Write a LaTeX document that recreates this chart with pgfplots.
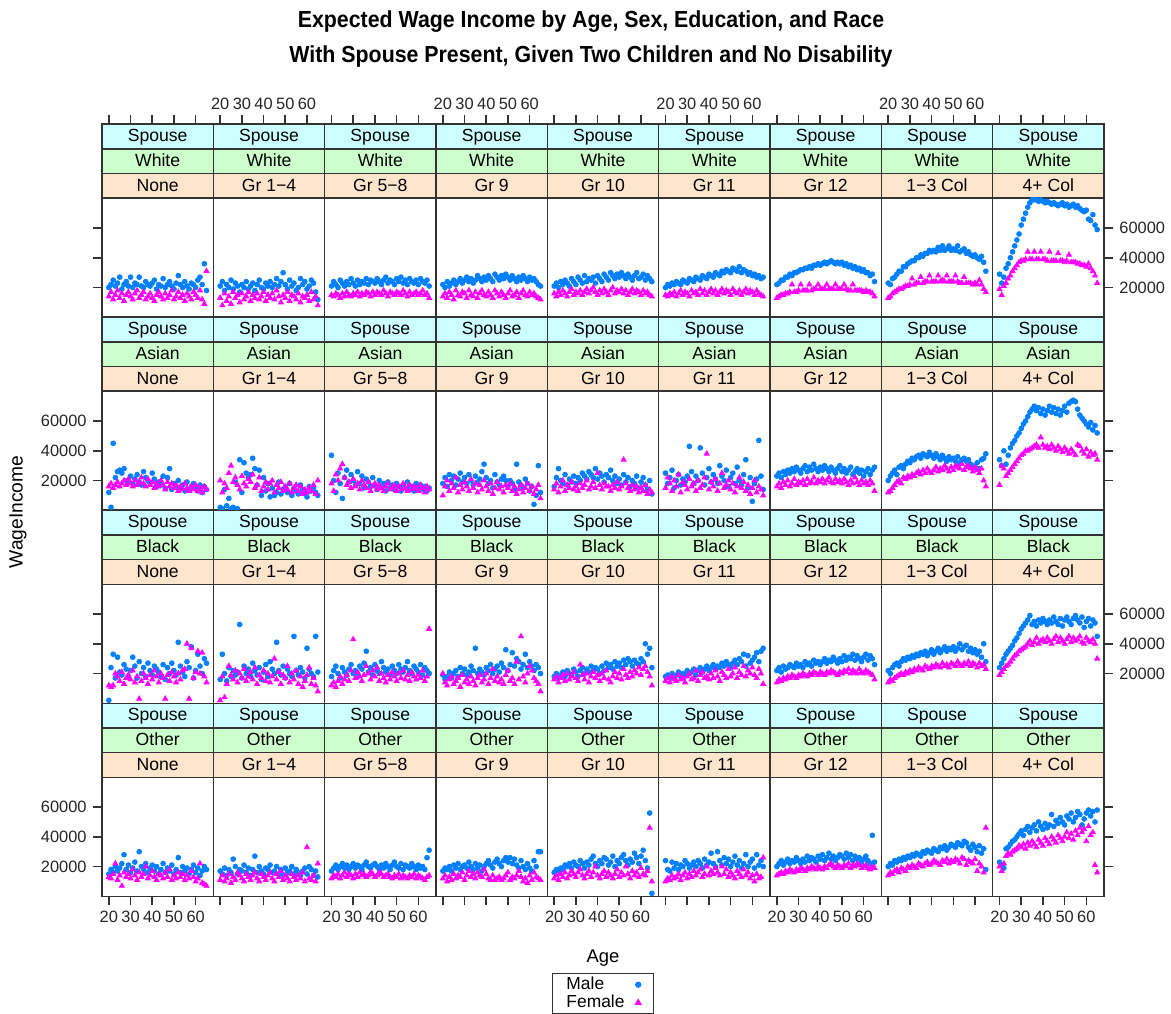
\documentclass[border=0pt]{standalone}
\usepackage{fontspec}
\setmainfont{Liberation Sans}
\newfontfamily\titlefont[FakeStretch=0.92]{Liberation Sans}
\usepackage{pgfplots}
\usepackage{pgfplotstable}
\pgfplotsset{compat=1.18}
\definecolor{cmale}{HTML}{0080FF}
\definecolor{cfem}{HTML}{FF00FF}
\definecolor{ccyan}{HTML}{CCFFFF}
\definecolor{cgreen}{HTML}{CCFFCC}
\definecolor{cpeach}{HTML}{FFE5CC}

\pgfplotstableread{
name 20 21 22 23 24 25 26 27 28 29 30 31 32 33 34 35 36 37 38 39 40 41 42 43 44 45 46 47 48 49 50 51 52 53 54 55 56 57 58 59 60 61 62 63 64 65
W1m 20 22 25 21 23 27 19 22 24 21 27 20 23 22 27 21 20 24 22 21 23 25 19 22 21 26 20 22 24 21 19 23 28 22 20 24 21 19 23 22 20 25 27 22 36 18
W1f 14 17 12 15 18 13 16 11 15 17 14 12 16 18 13 15 17 12 14 16 13 11 15 17 14 12 16 13 15 18 12 14 17 13 15 11 16 14 12 17 15 13 18 12 9 31
W2m 21 24 18 22 20 25 19 23 21 17 22 20 24 19 21 23 18 22 25 20 19 23 21 24 20 22 26 21 24 30 22 19 25 21 23 18 20 26 22 24 19 21 25 23 17 12
W2f 13 8 16 11 14 9 17 13 15 10 16 12 14 17 11 15 13 16 12 14 17 11 15 13 16 12 18 14 10 15 13 17 11 15 14 12 16 10 14 13 15 11 17 12 14 8
W3m 21 24 22 20 25 23 21 24 22 26 23 21 25 22 24 23 26 22 25 24 23 26 24 22 25 27 23 25 24 22 26 24 27 23 25 22 26 24 23 25 22 26 24 23 25 21
W3f 15 14 16 15 13 16 14 17 15 14 16 15 17 14 16 15 17 16 14 17 15 17 16 15 18 16 14 17 16 15 17 16 15 18 16 14 17 15 16 17 15 16 18 15 16 13
W4m 22 20 24 21 23 25 22 24 26 23 25 27 24 26 23 25 28 26 24 27 25 28 26 24 29 27 25 28 26 29 27 25 28 26 24 27 25 28 26 24 27 25 26 24 22 21
W4f 14 16 13 17 15 12 18 15 14 17 16 13 18 15 14 17 13 16 18 15 14 17 15 13 18 16 14 17 15 13 16 18 14 15 17 13 16 18 15 14 17 15 16 14 13 12
W5m 21 23 20 24 22 25 23 21 26 24 22 27 25 23 28 24 26 25 27 23 28 26 24 29 27 25 30 28 26 29 27 30 28 26 29 27 25 28 30 26 27 29 25 28 26 24
W5f 16 14 17 15 18 16 14 17 19 15 17 16 18 15 17 19 16 18 20 17 15 18 16 19 17 15 18 20 16 18 17 19 16 18 15 17 19 16 18 17 15 18 16 17 15 14
W6m 20 22 21 23 22 24 23 22 25 24 23 26 25 24 27 26 25 28 27 26 29 28 27 30 29 28 31 30 32 31 30 33 32 31 34 30 32 31 29 30 28 29 27 28 26 27
W6f 15 14 16 15 17 14 16 18 15 17 16 14 18 16 17 15 19 16 18 15 17 19 16 18 15 17 19 16 18 17 15 19 17 16 18 15 17 19 16 18 17 15 18 16 15 14
W7m 22 23 25 25 27 27 29 28 30 30 31 32 32 33 33 34 33 35 35 36 35 36 37 36 37 38 37 36 37 36 37 35 36 34 35 33 34 32 33 31 32 30 30 28 29 24
W7f 13 14 15 15 16 16 17 22 17 17 18 22 18 18 18 22 18 19 19 22 19 19 19 22 19 19 19 22 19 19 19 22 19 18 18 22 18 18 18 18 17 18 17 17 16 14
W8m 23 22 26 27 29 31 31 34 34 36 37 38 38 40 40 42 41 43 43 45 44 45 44 47 45 48 45 46 48 45 46 45 48 44 45 46 43 44 42 41 42 40 39 41 37 31
W8f 13 14 16 17 18 19 19 20 21 21 22 26 22 23 23 27 23 24 24 28 24 24 24 28 24 25 24 28 24 24 24 28 24 23 23 27 23 23 23 22 23 22 25 22 19 17
W9m 29 23 27 33 36 40 44 48 52 56 62 66 70 74 77 79 79 79 78 79 78 77 78 77 76 77 76 75 76 77 75 76 74 75 76 74 75 73 72 71 72 66 65 69 62 59
W9f 19 15 21 23 26 28 31 33 35 37 38 38 39 44 39 39 44 39 39 44 39 39 38 44 38 38 38 43 38 38 37 38 42 37 37 37 36 36 35 35 34 36 33 31 28 23
A1m 12 2 45 22 26 27 25 28 20 19 23 18 21 24 19 17 26 22 20 18 25 21 16 19 17 23 15 22 28 14 18 16 20 15 17 13 19 14 16 18 15 13 17 12 16 14
A1f 16 18 15 17 19 16 18 20 17 21 18 16 20 17 19 22 18 16 21 17 19 15 18 16 20 17 14 19 16 18 15 17 13 16 14 18 15 13 16 14 17 13 15 12 16 14
A2m 2 1 14 3 8 1 2 19 1 34 12 32 25 22 24 35 28 17 27 10 22 13 18 9 15 10 12 19 11 14 16 12 18 10 15 13 11 17 14 12 9 16 13 15 12 10
A2f 20 12 18 15 25 30 19 22 17 14 23 18 16 21 19 24 15 17 22 13 16 19 14 18 20 12 17 15 19 13 16 14 18 12 15 17 13 16 11 14 12 15 13 17 11 20
A3m 37 20 12 25 18 8 22 27 19 24 20 17 26 18 23 15 21 19 16 22 17 14 20 16 18 13 19 15 17 14 18 16 13 17 15 19 14 16 13 18 15 17 14 16 13 15
A3f 18 13 24 20 28 31 22 17 19 15 21 16 18 14 20 17 15 19 13 16 18 14 17 15 13 16 18 14 15 17 13 16 14 18 15 13 17 14 16 15 13 17 15 12 16 14
A4m 18 22 16 24 20 23 17 21 25 19 22 18 24 20 17 23 19 21 26 31 22 18 20 15 24 19 17 21 23 20 16 20 18 14 31 19 17 15 21 18 13 16 4 10 30 12
A4f 10 16 20 13 18 15 22 12 17 14 19 16 13 21 15 18 12 17 14 20 16 13 18 11 15 19 14 16 12 17 15 18 13 16 11 14 17 12 15 18 13 16 11 14 17 8
A5m 16 22 28 20 18 24 17 21 19 23 18 22 20 25 23 21 26 24 22 28 21 25 23 19 24 22 27 20 23 18 21 17 24 19 22 16 20 18 23 15 19 22 17 14 20 11
A5f 14 18 12 16 20 13 17 15 19 14 16 13 18 15 17 20 14 16 19 15 25 17 14 18 16 16 13 17 15 19 14 16 34 18 15 13 17 14 16 12 15 13 17 11 14 12
A6m 25 18 22 27 15 20 24 17 21 19 23 43 26 18 23 20 42 25 17 22 28 19 24 21 18 30 23 20 27 16 22 25 18 29 20 17 24 34 15 22 6 18 21 47 23 14
A6f 15 22 18 13 20 16 24 12 19 17 14 21 16 18 13 20 15 17 22 38 14 19 16 21 13 18 25 15 17 20 14 18 12 16 22 15 19 13 17 11 15 20 12 16 14 10
A7m 23 25 22 26 24 27 25 28 26 29 27 25 28 30 26 29 27 31 28 26 29 27 30 28 26 29 27 25 28 30 26 28 25 27 29 24 26 28 25 27 23 26 28 24 27 29
A7f 16 18 15 19 17 20 16 18 21 17 19 18 20 17 21 18 19 22 18 20 19 21 18 20 22 19 18 21 19 20 18 21 19 17 20 18 22 19 17 20 18 19 17 20 18 13
A8m 20 23 25 27 24 29 30 28 31 33 32 35 34 36 37 35 38 37 36 39 37 35 38 36 34 37 35 33 36 34 35 33 36 32 34 35 33 34 31 30 29 32 28 34 35 38
A8f 12 13 15 17 19 20 18 22 21 23 22 24 23 25 26 24 27 25 28 26 25 27 29 26 28 27 30 28 26 29 27 30 29 28 31 27 29 30 28 26 29 27 25 28 20 16
A9m 34 30 40 31 37 42 45 47 50 52 55 58 60 63 66 68 70 67 69 65 68 64 67 70 66 69 65 68 64 67 70 66 72 73 74 73 68 64 62 60 58 56 59 54 57 52
A9f 17 30 28 23 25 27 29 31 33 35 37 38 40 40 41 42 43 44 42 49 44 42 43 41 44 42 40 43 41 39 42 40 38 41 39 37 44 43 40 38 41 36 39 37 38 34
B1m 2 24 33 17 31 21 19 26 23 18 22 31 25 17 28 20 24 18 27 22 19 25 23 21 18 26 16 24 20 27 22 19 41 25 21 18 28 24 38 17 22 33 25 20 30 27
B1f 12 11 12 20 18 15 21 13 17 19 16 22 14 18 3 15 20 17 13 19 16 22 18 14 20 17 3 19 15 21 18 14 20 16 22 23 40 3 37 17 21 35 20 34 18 14
B2m 16 33 20 15 24 18 22 19 21 53 17 25 20 23 18 27 22 19 24 16 21 26 18 28 23 20 41 22 19 25 17 23 20 18 45 22 19 24 21 17 37 23 20 18 45 21
B2f 2 18 4 13 25 19 16 22 14 20 17 23 15 18 21 16 24 13 19 17 22 15 20 14 18 30 16 21 13 19 17 25 14 20 16 22 13 18 11 15 19 24 13 17 12 8
B3m 18 22 25 20 17 24 21 19 23 26 20 22 18 25 23 27 35 21 24 19 26 22 20 28 24 21 23 19 25 22 20 26 23 21 24 28 22 20 25 23 21 26 19 24 22 20
B3f 12 14 11 15 18 13 16 19 15 22 43 17 21 18 15 19 25 20 16 22 18 24 15 20 17 14 19 16 21 18 15 20 17 22 16 19 15 21 18 16 19 17 22 15 18 50
B4m 19 16 18 21 17 20 22 18 24 20 23 19 21 25 22 37 20 23 21 19 24 22 26 20 23 25 21 27 24 36 22 26 34 25 30 28 23 26 33 24 28 25 22 26 24 20
B4f 20 14 12 16 18 13 15 17 11 19 14 16 13 18 15 12 17 19 14 16 20 13 17 23 15 18 14 16 13 19 22 15 17 13 28 16 45 18 14 20 25 22 17 15 13 8
B5m 18 20 17 19 21 18 22 20 19 23 21 18 22 24 20 23 21 25 22 24 23 20 25 22 27 24 26 23 28 25 27 24 29 26 30 28 25 29 27 26 30 28 40 33 37 24
B5f 16 18 14 17 19 15 20 16 18 21 17 15 26 19 16 20 14 18 21 17 19 15 20 17 22 16 14 18 21 17 20 16 23 19 17 21 18 22 20 24 19 23 25 21 18 12
B6m 18 19 17 20 18 19 21 18 20 19 22 20 21 23 19 22 24 21 23 25 22 24 26 23 25 24 27 25 28 26 24 27 29 26 30 28 33 25 32 27 29 31 34 28 35 37
B6f 15 17 14 18 16 15 19 16 17 14 18 20 16 17 22 15 19 21 17 18 16 20 17 22 18 15 21 19 17 23 18 20 24 17 21 19 25 18 22 20 24 19 17 23 20 13
B7m 22 24 21 25 23 24 26 25 24 27 25 26 24 28 26 27 25 29 27 28 26 28 30 27 29 28 31 29 27 30 28 32 29 31 30 33 29 32 30 28 31 33 29 32 30 26
B7f 14 16 15 17 16 18 17 19 18 17 19 18 20 19 18 20 19 21 20 19 21 20 19 21 20 22 21 20 19 21 20 22 21 23 20 22 21 20 23 21 20 22 21 20 19 16
B8m 22 20 24 26 27 25 28 30 29 31 30 32 31 33 32 34 33 35 32 34 36 33 35 37 34 36 38 35 37 36 38 35 37 40 36 38 39 35 37 34 36 33 35 31 40 28
B8f 14 16 15 17 18 19 20 19 21 20 22 21 23 22 24 23 22 25 24 23 25 24 26 25 24 27 25 26 24 27 26 25 28 26 25 27 26 28 25 27 26 24 27 25 26 23
B9m 24 27 30 33 35 37 39 42 44 47 50 52 54 56 59 53 55 52 56 54 57 55 53 56 54 58 55 53 57 52 56 58 55 53 57 59 56 54 58 51 55 57 52 56 54 45
B9f 19 21 23 25 26 28 30 32 33 35 36 37 38 40 42 39 41 44 40 42 43 41 44 42 40 43 45 41 44 42 40 43 45 41 44 42 43 45 41 40 44 42 41 43 40 30
O1m 15 18 16 20 17 19 22 28 18 21 16 19 23 17 30 20 18 22 16 19 21 17 20 15 18 22 16 19 17 21 15 18 26 16 20 17 19 15 18 21 16 19 14 17 20 18
O1f 13 12 15 22 11 14 7 16 13 15 12 18 14 11 16 13 15 20 12 14 17 13 11 15 14 12 16 13 18 11 14 12 16 13 15 11 14 12 17 13 10 12 22 9 8 7
O2m 17 15 19 14 18 16 25 20 15 18 17 21 16 19 14 18 27 16 20 17 15 19 18 21 16 17 20 15 18 14 19 16 17 20 15 18 16 14 17 19 15 20 18 14 17 13
O2f 11 14 10 12 15 9 13 11 16 14 12 10 15 13 11 14 16 12 10 15 13 11 14 16 12 10 15 13 17 11 14 12 10 15 13 11 14 12 16 10 33 12 11 14 10 22
O3m 17 19 21 18 20 22 19 21 18 20 22 19 21 20 18 21 23 20 19 21 22 20 18 21 19 22 20 18 21 23 20 19 22 18 21 20 19 22 20 18 21 19 20 18 26 31
O3f 12 14 13 15 12 14 16 13 15 14 12 15 13 16 14 15 13 14 16 15 13 14 16 15 13 14 15 13 12 14 13 15 12 14 13 12 14 13 15 12 14 13 12 11 13 14
O4m 17 19 18 20 17 21 19 22 18 20 21 19 23 20 18 22 19 21 17 20 22 24 21 19 23 25 22 20 24 26 23 26 22 25 21 19 24 20 18 22 19 17 24 20 30 30
O4f 12 14 10 13 11 15 12 14 13 16 11 14 17 13 15 12 16 14 13 18 15 12 11 14 11 12 13 11 12 14 16 11 13 12 14 17 13 10 12 9 14 11 16 13 12 11
O5m 16 18 17 19 18 21 20 22 19 23 21 20 24 22 19 23 21 25 27 22 20 24 22 26 25 21 23 27 20 24 22 26 28 24 21 25 23 29 26 22 27 31 24 19 56 2
O5f 12 14 11 15 13 16 12 14 17 15 13 16 18 14 12 15 17 13 16 20 14 12 15 17 13 16 14 12 15 18 13 16 14 20 15 12 17 14 16 13 19 15 14 17 46 10
O6m 24 18 17 23 19 22 18 21 20 24 22 19 21 23 20 24 22 19 25 21 23 29 22 20 30 24 21 26 22 25 20 23 27 21 24 19 22 28 20 23 25 19 28 21 24 20
O6f 10 12 11 14 12 13 15 11 14 16 12 15 13 17 14 16 18 13 15 20 14 17 15 19 16 14 20 15 18 13 16 14 12 17 15 13 18 14 16 12 14 10 15 12 13 26
O7m 20 22 24 21 23 25 22 24 23 26 24 22 25 23 27 24 26 25 23 27 25 28 24 26 29 25 27 24 26 28 27 25 29 26 28 24 27 25 26 23 25 27 24 22 41 23
O7f 14 15 16 15 17 16 18 17 16 18 17 19 18 17 19 18 20 19 18 20 19 18 20 19 21 22 20 19 21 20 19 21 20 22 19 21 20 22 21 19 20 21 19 18 20 19
O8m 20 22 21 24 23 25 24 26 25 27 26 28 27 29 28 27 30 29 31 30 29 32 31 30 33 32 34 31 33 35 34 33 36 35 34 37 36 33 31 35 33 30 34 29 32 18
O8f 14 16 15 17 18 16 19 18 17 20 19 21 20 19 22 21 20 22 23 21 22 24 23 22 21 24 23 25 22 24 23 25 24 22 26 25 21 24 23 22 25 17 22 20 16 46
O9m 23 21 19 32 33 35 37 38 40 42 44 41 45 47 43 46 48 44 50 47 45 49 46 48 55 47 51 49 53 50 48 54 52 56 50 53 57 55 48 52 56 58 54 57 50 58
O9f 20 17 22 27 29 28 30 31 32 34 33 35 32 36 34 37 35 33 38 36 34 39 37 35 40 38 36 41 39 37 40 43 39 42 38 44 41 46 43 45 37 47 41 43 21 16
}\raw
\pgfplotstabletranspose[colnames from=name]\T{\raw}

\pgfplotsset{
  base/.style={width=55.667pt, height=96.5pt, scale only axis, anchor=south west,
    xmin=16.85, xmax=68.15, ymin=0, ymax=129.75, clip=false,
    axis line style={line width=0.8pt, draw=black!80},
    tick align=outside, major tick length=4.5pt,
    tick style={line width=0.8pt, black!80},
    xtick=\empty, ytick=\empty,
    tick label style={font=\fontsize{8.2}{9}\selectfont, text=black!85},
    xticklabel style={inner sep=2.5pt},
    yticklabel style={inner sep=3pt}},
  male/.style={only marks, mark=*, mark size=1.2pt, color=cmale},
  female/.style={only marks, mark=triangle*, mark size=1.45pt, color=cfem},
  toprow/.style={xtick={20,30,40,50,60}, xtick pos=right, xticklabel pos=right, xticklabel={\mbox{}}},
  botrow/.style={xtick={20,30,40,50,60}, xtick pos=left, xticklabel pos=left, xticklabel={\mbox{}}},
  xlab/.style={xticklabels={20,30,40,50,60}},
  lcol/.style={ytick={20,40,60}, ytick pos=left, yticklabel pos=left, yticklabel={\mbox{}}},
  rcol/.style={ytick={20,40,60}, ytick pos=right, yticklabel pos=right, yticklabel={\mbox{}}},
  ylab/.style={yticklabels={20000,40000,60000}},
}
\tikzset{sline/.style={line width=0.8pt, draw=black!80},
  stext/.style={font=\fontsize{8.8}{10}\selectfont, text height=0.72em, text depth=0.2em, inner sep=0pt}}

\newcommand\strips[2]{%
  \draw[sline, fill=cpeach] (rel axis cs:0,0.61657) rectangle (rel axis cs:1,0.74437);
  \draw[sline, fill=cgreen] (rel axis cs:0,0.74437) rectangle (rel axis cs:1,0.87222);
  \draw[sline, fill=ccyan] (rel axis cs:0,0.87222) rectangle (rel axis cs:1,1);
  \node[stext] at (rel axis cs:0.5,0.68047) {#2};
  \node[stext] at (rel axis cs:0.5,0.80830) {#1};
  \node[stext] at (rel axis cs:0.5,0.93611) {Spouse};
}
\newcommand\panel[6]{%
  \begin{axis}[base, at={({51pt+55.667pt*#1},{347.85pt-96.5pt*#2})}, #6]
  \addplot[male] table[x=colnames, y=#3m] {\T};
  \addplot[female] table[x=colnames, y=#3f] {\T};
  \strips{#4}{#5}
  \end{axis}}

\begin{document}
\begin{tikzpicture}
\path[use as bounding box] (0,0) rectangle (585.5pt,506.5pt);
\node[font=\titlefont\bfseries\fontsize{11.6}{13}\selectfont] at (295.5pt,495.5pt) {Expected Wage Income by Age, Sex, Education, and Race};
\node[font=\titlefont\bfseries\fontsize{11.6}{13}\selectfont] at (295.5pt,478pt) {With Spouse Present, Given Two Children and No Disability};
\node[rotate=90, font=\fontsize{9.6}{11}\selectfont] at (9pt,250.5pt) {WageIncome};
\node[font=\fontsize{9.2}{11}\selectfont] at (301.5pt,27.5pt) {Age};

\panel{0}{0}{W1}{White}{None}{toprow, lcol}
\panel{1}{0}{W2}{White}{Gr 1−4}{toprow, xlab}
\panel{2}{0}{W3}{White}{Gr 5−8}{toprow}
\panel{3}{0}{W4}{White}{Gr 9}{toprow, xlab}
\panel{4}{0}{W5}{White}{Gr 10}{toprow}
\panel{5}{0}{W6}{White}{Gr 11}{toprow, xlab}
\panel{6}{0}{W7}{White}{Gr 12}{toprow}
\panel{7}{0}{W8}{White}{1−3 Col}{toprow, xlab}
\panel{8}{0}{W9}{White}{4+ Col}{toprow, rcol, ylab}

\panel{0}{1}{A1}{Asian}{None}{lcol, ylab}
\panel{1}{1}{A2}{Asian}{Gr 1−4}{}
\panel{2}{1}{A3}{Asian}{Gr 5−8}{}
\panel{3}{1}{A4}{Asian}{Gr 9}{}
\panel{4}{1}{A5}{Asian}{Gr 10}{}
\panel{5}{1}{A6}{Asian}{Gr 11}{}
\panel{6}{1}{A7}{Asian}{Gr 12}{}
\panel{7}{1}{A8}{Asian}{1−3 Col}{}
\panel{8}{1}{A9}{Asian}{4+ Col}{rcol}

\panel{0}{2}{B1}{Black}{None}{lcol}
\panel{1}{2}{B2}{Black}{Gr 1−4}{}
\panel{2}{2}{B3}{Black}{Gr 5−8}{}
\panel{3}{2}{B4}{Black}{Gr 9}{}
\panel{4}{2}{B5}{Black}{Gr 10}{}
\panel{5}{2}{B6}{Black}{Gr 11}{}
\panel{6}{2}{B7}{Black}{Gr 12}{}
\panel{7}{2}{B8}{Black}{1−3 Col}{}
\panel{8}{2}{B9}{Black}{4+ Col}{rcol, ylab}

\panel{0}{3}{O1}{Other}{None}{botrow, xlab, lcol, ylab}
\panel{1}{3}{O2}{Other}{Gr 1−4}{botrow}
\panel{2}{3}{O3}{Other}{Gr 5−8}{botrow, xlab}
\panel{3}{3}{O4}{Other}{Gr 9}{botrow}
\panel{4}{3}{O5}{Other}{Gr 10}{botrow, xlab, legend entries={Male,Female}, legend plot pos=right, legend cell align=left,
  legend style={at={(0.5,-0.3974)}, anchor=north, draw=black!80, line width=0.7pt, font=\fontsize{8.7}{9}\selectfont, inner xsep=6.5pt, inner ysep=1pt, row sep=0pt, nodes={inner sep=0.6pt}, /tikz/every odd column/.append style={column sep=5pt}}}
\panel{5}{3}{O6}{Other}{Gr 11}{botrow}
\panel{6}{3}{O7}{Other}{Gr 12}{botrow, xlab}
\panel{7}{3}{O8}{Other}{1−3 Col}{botrow}
\panel{8}{3}{O9}{Other}{4+ Col}{botrow, xlab, rcol}
\end{tikzpicture}
\end{document}
